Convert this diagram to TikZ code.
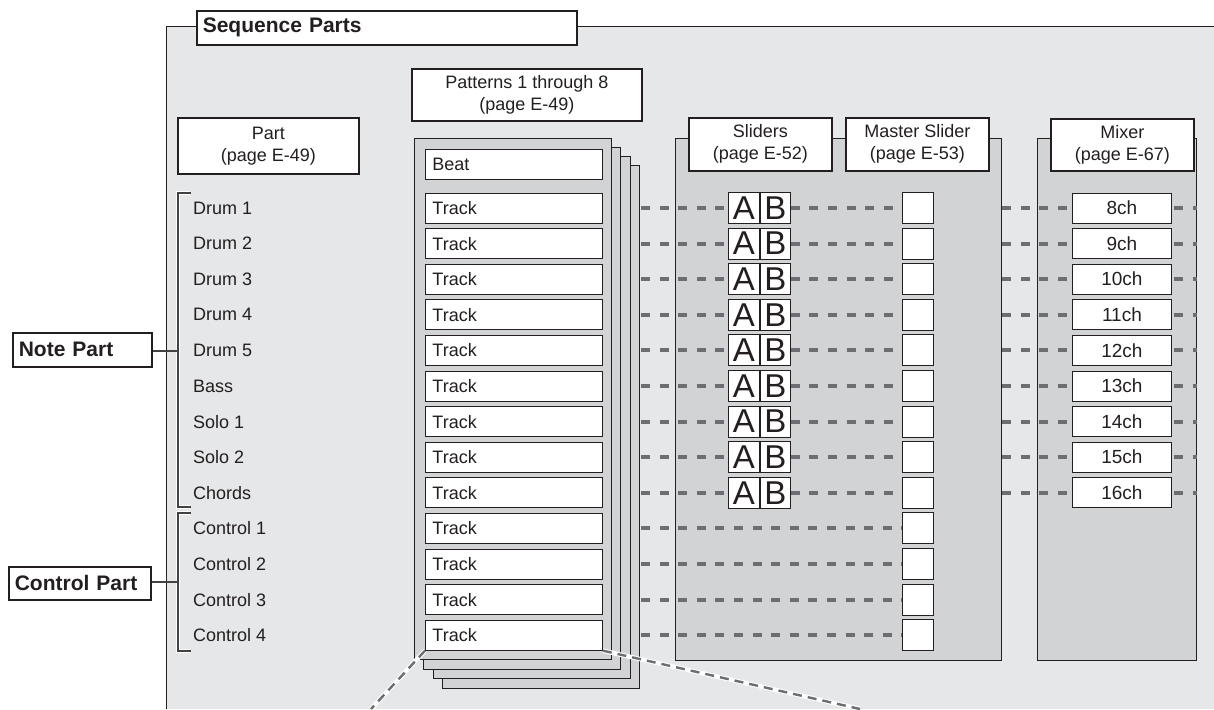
\documentclass[tikz,border=0pt]{standalone}
\usepackage{fontspec}
\setmainfont{Liberation Sans}
\usetikzlibrary{calc}
\definecolor{outerbg}{HTML}{E6E7E8}
\definecolor{panelbg}{HTML}{D1D3D4}
\definecolor{dashgray}{HTML}{6D6E71}
\definecolor{ink}{HTML}{231F20}
\tikzset{
  txt/.style={font=\fontsize{18}{22}\selectfont, text=ink},
  lblbox/.style={draw=ink, line width=1.6pt, fill=white, inner sep=0pt, txt, align=center, anchor=north west},
  boldbox/.style={draw=ink, line width=1.6pt, fill=white, inner ysep=0pt, inner xsep=6pt, anchor=north west,
     font=\fontsize{21}{24}\selectfont\bfseries, text=ink, align=left},
  rowbox/.style={draw=ink, line width=0.9pt, fill=white, inner ysep=0pt, inner xsep=7pt, anchor=west,
     minimum height=30pt, txt},
  panel/.style={draw=ink, line width=0.9pt, fill=panelbg},
  dashline/.style={draw=dashgray, line width=4pt, dash pattern=on 9pt off 9.6pt},
  brk/.style={draw=ink!85, line width=1.1pt},
  halo/.style={draw=white, line width=3.2pt},
  diag/.style={draw=dashgray, line width=2.4pt, dash pattern=on 9pt off 6pt},
  abbox/.style={draw=ink, line width=0.9pt, fill=white, minimum height=31pt, inner sep=0pt, anchor=west,
        font=\fontsize{33}{33}\selectfont, text=ink},
}
\begin{document}
\begin{tikzpicture}[x=1pt,y=-1pt]
\useasboundingbox (0,0) rectangle (1214,709);
\fill[white] (0,0) rectangle (1214,709);
% outer panel
\fill[outerbg] (166,27) rectangle (1214,709);
\draw[ink, line width=1pt] (166,709) -- (166,27) -- (1214,27);
\node[boldbox, text width=368pt, minimum height=34pt] (seq) at (196,10) {Sequence Parts};

% column labels
\node[lblbox, minimum width=181pt, minimum height=56pt] (partlbl) at (177,117) {Part\\(page E-49)};
\node[lblbox, minimum width=230pt, minimum height=52pt] (patlbl) at (411,68) {Patterns 1 through 8\\(page E-49)};

% pattern stack
\node[panel, minimum width=197pt, minimum height=523pt, anchor=north west, inner sep=0pt] (lay4) at (442,165) {};
\node[panel, minimum width=197pt, minimum height=522pt, anchor=north west, inner sep=0pt] (lay3) at (433,156) {};
\node[panel, minimum width=197pt, minimum height=522pt, anchor=north west, inner sep=0pt] (lay2) at (423,147) {};
\node[panel, minimum width=197pt, minimum height=521pt, anchor=north west, inner sep=0pt] (lay1) at (414,138) {};

% sliders and mixer panels
\node[panel, minimum width=326pt, minimum height=522pt, anchor=north west, inner sep=0pt] (slp) at (675,138) {};
\node[panel, minimum width=159pt, minimum height=522pt, anchor=north west, inner sep=0pt] (mxp) at (1037,138) {};
\node[lblbox, minimum width=143pt, minimum height=53pt] (sllbl) at (688,117) {Sliders\\(page E-52)};
\node[lblbox, minimum width=143pt, minimum height=53pt] (mslbl) at (845,117) {Master Slider\\(page E-53)};
\node[lblbox, minimum width=143pt, minimum height=52pt] (mxlbl) at (1050,118) {Mixer\\(page E-67)};

% beat
\node[rowbox, text width=163pt] (beat) at (425,164) {Beat};

% rows
\foreach \i/\p in {1/Drum 1,2/Drum 2,3/Drum 3,4/Drum 4,5/Drum 5,6/Bass,7/Solo 1,8/Solo 2,9/Chords,10/Control 1,11/Control 2,12/Control 3,13/Control 4}{
  \pgfmathsetmacro\yy{208+35.6*(\i-1)}
  \node[txt, anchor=west, inner sep=0pt] (p\i) at (193,\yy) {\p};
  \node[rowbox, text width=163pt] (tr\i) at (425,\yy) {Track};
  \node[draw=ink, line width=0.9pt, fill=white, minimum width=31pt, minimum height=31pt, inner sep=0pt, anchor=west] (ms\i) at (902,\yy) {};
}
\foreach \i/\c in {1/8ch,2/9ch,3/10ch,4/11ch,5/12ch,6/13ch,7/14ch,8/15ch,9/16ch}{
  \pgfmathsetmacro\yy{208+35.6*(\i-1)}
  \node[abbox, minimum width=31pt] (a\i) at (728,\yy) {A};
  \node[abbox, minimum width=30pt] (b\i) at (a\i.east) {B};
  \node[draw=ink, line width=0.9pt, fill=white, minimum width=99pt, minimum height=30pt, inner sep=0pt, anchor=west,
        font=\fontsize{19}{22}\selectfont, text=ink] (mx\i) at (1072,\yy) {\c};
  \draw[dashline] (tr\i.east -| lay4.east) ++(1,0) -- (a\i.west);
  \draw[dashline] (b\i.east) -- (ms\i.west);
  \draw[dashline] (ms\i.west -| slp.east) ++(0,0) -- (mx\i.west);
  \coordinate (mxend\i) at (1197,\yy);
  \draw[dashline] (mx\i.east) ++(2,0) -- (mxend\i);
}
\foreach \i in {10,11,12,13}{
  \draw[dashline] (tr\i.east -| lay4.east) ++(1,0) -- (ms\i.west);
}

% brackets
\coordinate (nt) at (178,193); \coordinate (nb) at (178,507);
\coordinate (ct) at (178,513); \coordinate (cb) at (178,651);
\coordinate (nj) at (178,351); \coordinate (cj) at (178,582);
\node[boldbox, text width=127pt, minimum height=34pt, inner xsep=6pt] (note) at (12,332) {Note Part};
\node[boldbox, text width=130pt, minimum height=33pt, inner xsep=6pt] (ctrl) at (8,566) {Control Part};
\foreach \s/\e in {nt/nb,ct/cb}{
  \draw[halo] ($(\s)+(12,0)$) -- (\s) -- (\e) -- ($(\e)+(12,0)$);
}
\draw[brk] (191,193) -- (nt) -- (nb) -- (191,507);
\draw[brk] (191,513) -- (ct) -- (cb) -- (191,651);
\draw[brk] (note.east |- nj) -- (nj);
\draw[brk] (ctrl.east |- cj) -- (cj);

% diagonals
\coordinate (dl) at (371,709);
\coordinate (dr) at (860,709);
\draw[halo, line width=4.5pt] (tr13.south west) -- (dl);
\draw[halo, line width=4.5pt] (tr13.south east) -- (dr);
\draw[diag] (tr13.south west) -- (dl);
\draw[diag] (tr13.south east) -- (dr);
\end{tikzpicture}
\end{document}
